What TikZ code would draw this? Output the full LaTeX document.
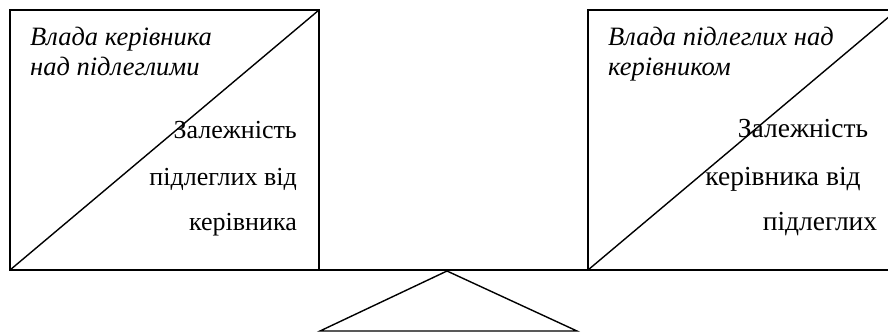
\documentclass[tikz,border=0pt]{standalone}
\usepackage{fontspec}
\setmainfont{Liberation Serif}
\usepackage{tikz}
\usetikzlibrary{positioning,calc}

\begin{document}
\begin{tikzpicture}[
  x=1pt,
  y=-1pt,
  frame/.style={black, line width=1.4pt},
  power/.style={anchor=base west, inner sep=0pt, font=\fontsize{26.5}{30}\selectfont\itshape},
  depend/.style={inner sep=0pt, font=\fontsize{26}{30}\selectfont},
  dependwide/.style={depend, anchor=base, font=\fontsize{27.5}{30}\selectfont},
]
\useasboundingbox (0,0) rectangle (888,333);
\clip (0,0) rectangle (888,333);

% Corners of the two scale pans
\coordinate (lA) at (10,270);
\coordinate (lB) at (319,10);
\coordinate (rA) at (588,270);
\coordinate (rB) at (897,10);

% Beam and pivot
\coordinate (beamL) at (10,270);
\coordinate (beamR) at (897,270);
\coordinate (top)   at (447,271);
\coordinate (baseL) at (320,331);
\coordinate (baseR) at (577,331);

% Pans
\draw[frame] (lA) rectangle (lB);
\draw[frame] (lA) -- (lB);
\draw[frame] (rA) rectangle (rB);
\draw[frame] (rA) -- (rB);

% Beam
\draw[frame] (beamL) -- (beamR);

% Pivot
\draw[frame] (top) -- (baseL) -- (baseR) -- cycle;

% Left pan texts
\node[power] (lp1) at (30,45) {Влада керівника};
\node[power] (lp2) at (30,75) {над підлеглими};
\node[depend, anchor=base east] (ld1) at (297,138) {Залежність};
\node[depend, anchor=base east] (ld2) at (297,185) {підлеглих від};
\node[depend, anchor=base east] (ld3) at (297,230) {керівника};

% Right pan texts
\node[dependwide] (rd1) at (803,137) {Залежність};
\node[dependwide] (rd2) at (783,185) {керівника від};
\node[dependwide] (rd3) at (820,230) {підлеглих};
\node[power] (rp1) at (608,45) {Влада підлеглих над};
\node[power] (rp2) at (608,75) {керівником};

\end{tikzpicture}
\end{document}
